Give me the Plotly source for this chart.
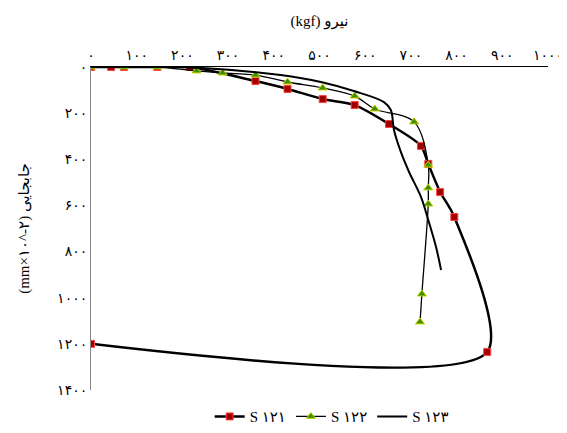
import plotly.graph_objects as go

def fa(n):
    return str(n).translate(str.maketrans("0123456789", "۰۱۲۳۴۵۶۷۸۹"))

# S121 (force kgf, displacement mm x 10^-2)
s121_x = [0, 44, 72, 145, 217, 360, 430, 507, 577, 652, 722, 738, 764, 795, 867, 0]
s121_y = [0, 0, 0, 0, 0, 61, 95, 139, 165, 247, 342, 420, 542, 650, 1235, 1200]

# S122
s122_x = [0, 72, 145, 231, 288, 360, 430, 507, 577, 621, 707, 738, 738, 738, 724, 720]
s122_y = [0, 0, 0, 17, 26, 35, 65, 91, 126, 182, 238, 425, 524, 594, 984, 1105]

# S123
s123_x = [0, 239, 415, 503, 575, 641, 656, 663, 678, 696, 722, 738, 755, 766]
s123_y = [0, 4, 35, 65, 104, 152, 186, 273, 368, 455, 563, 663, 780, 880]

x_ticks = list(range(0, 1001, 100))
y_ticks = list(range(0, 1401, 200))

font_fam = "Liberation Serif, DejaVu Serif, DejaVu Sans"

fig = go.Figure()
fig.add_trace(go.Scatter(
    x=s121_x, y=s121_y, name="S " + fa(121), mode="lines+markers",
    line=dict(color="black", width=2.5, shape="spline", smoothing=0.75),
    marker=dict(symbol="square", size=7, color="#a00000", line=dict(color="#ff4040", width=1)),
))
fig.add_trace(go.Scatter(
    x=s122_x, y=s122_y, name="S " + fa(122), mode="lines+markers",
    line=dict(color="black", width=1.3, shape="spline", smoothing=1.0),
    marker=dict(symbol="triangle-up", size=8, color="#3d8f00", line=dict(color="#c8d400", width=1)),
))
fig.add_trace(go.Scatter(
    x=s123_x, y=s123_y, name="S " + fa(123), mode="lines",
    line=dict(color="black", width=2, shape="spline", smoothing=1.0),
))

fig.update_layout(
    width=559, height=417,
    margin=dict(l=83, r=19, t=59, b=35),
    paper_bgcolor="white", plot_bgcolor="white",
    font=dict(family=font_fam, size=13, color="black"),
    showlegend=True,
    legend=dict(orientation="h", xref="container", yref="container",
                x=0.579, xanchor="center", y=0.02, yanchor="middle",
                font=dict(size=15), itemwidth=30, tracegroupgap=0),
    xaxis=dict(side="top", range=[0, 1000], tickvals=x_ticks, automargin=False,
               ticktext=[fa(v) for v in x_ticks], showgrid=False, zeroline=False,
               showline=True, linecolor="black", linewidth=1, ticks="",
               tickfont=dict(size=14), ticklabeloverflow="allow",
               title=dict(text="(kgf) نیرو", font=dict(size=15), standoff=18)),
    yaxis=dict(range=[1400, 0], tickvals=y_ticks, automargin=False,
               ticktext=[fa(v) for v in y_ticks], showgrid=False, zeroline=False,
               showline=True, linecolor="#888888", linewidth=1, ticks="",
               tickfont=dict(size=14),
               title=dict(text="(mm×" + fa(10) + "^-" + fa(2) + ") جابجایی", font=dict(size=15), standoff=23)),
)

fig.write_html("out.html")
